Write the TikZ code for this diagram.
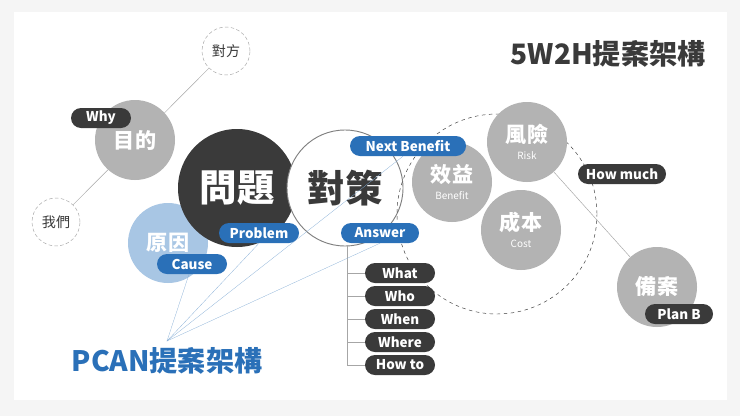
\documentclass[tikz,border=0pt]{standalone}
\usepackage{fontspec}
\setmainfont{Noto Sans CJK TC}
\usepackage{xcolor}
\usetikzlibrary{positioning,calc}
\definecolor{ink}{HTML}{3A3A3A}
\definecolor{pblue}{HTML}{2A70B8}
\definecolor{lblue}{HTML}{A8C6E4}
\definecolor{cgray}{HTML}{B3B3B3}
\newcommand{\subtag}[1]{{\mdseries\fontsize{8.5}{9}\selectfont #1}}

\begin{document}
\begin{tikzpicture}[x=0.03cm, y=-0.03cm,
    bubble/.style={circle, fill=cgray, minimum size=80*0.03cm, inner sep=0pt, align=center, text=white, font=\bfseries\fontsize{18}{19}\selectfont},
    dotball/.style={circle, draw=gray!70, densely dashed, fill=white, minimum size=48*0.03cm, inner sep=0pt, font=\fontsize{12}{13}\selectfont, text=ink},
    pill/.style={rounded corners=10*0.03cm, minimum height=20*0.03cm, inner sep=0pt, text=white, font=\bfseries\fontsize{11.5}{12}\selectfont},
    darkpill/.style={pill, fill=ink},
    bluepill/.style={pill, fill=pblue},
    link/.style={gray!70, thin},
    ray/.style={pblue!60, very thin}
]
    % page
    \fill[gray!8] (0,0) rectangle (740,416);
    \fill[white] (14,12) rectangle (727,400);

    % left side: purpose
    \node[dotball] (them) at (226,51) {對方};
    \node[dotball] (us) at (56,222) {我們};
    \draw[link] (them) -- (us);
    \node[bubble] (goal) at (135,140) {目的};
    \node[darkpill, minimum width=60*0.03cm] (why) at (101,118) {Why};

    % center: problem and answer
    \node[circle, fill=lblue, minimum size=80*0.03cm, inner sep=0pt, text=white, font=\bfseries\fontsize{18}{19}\selectfont] (cause) at (168,243) {原因};
    \node[circle, fill=ink, minimum size=118*0.03cm, inner sep=0pt, text=white, font=\bfseries\fontsize{32}{33}\selectfont] (prob) at (237,188) {問題};
    \node[circle, draw=gray, thick, fill=white, minimum size=116*0.03cm, inner sep=0pt, text=ink, font=\bfseries\fontsize{32}{33}\selectfont] (ans) at (345,188) {對策};

    % right side: 5W2H
    \node[circle, draw=ink, dashed, minimum size=200*0.03cm] (scope5w) at (497,214) {};
    \node[bubble] (risk) at (527,142) {風險\\[-4pt]\subtag{Risk}};
    \node[bubble] (alt) at (657,287) {備案};
    \draw[link] (risk) -- (alt);
    \node[bubble] (gain) at (452,182) {效益\\[-4pt]\subtag{Benefit}};
    \node[bubble] (cost) at (521,230) {成本\\[-4pt]\subtag{Cost}};

    \node[bluepill, minimum width=116*0.03cm] (next) at (408,146) {Next Benefit};
    \node[bluepill, minimum width=80*0.03cm] (probtag) at (259,233) {Problem};
    \node[bluepill, minimum width=78*0.03cm] (anstag) at (380,233) {Answer};
    \node[bluepill, minimum width=70*0.03cm] (causetag) at (192,264) {Cause};
    \node[darkpill, minimum width=88*0.03cm] (much) at (622,174) {How much};
    \node[darkpill, minimum width=68*0.03cm] (planb) at (679,314) {Plan B};

    % W list
    \coordinate (stem) at (347,245);
    \foreach \w/\y in {What/273, Who/296, When/319, Where/342, How to/365} {
        \node[darkpill, minimum width=70*0.03cm] (w\y) at (400,\y) {\w};
        \draw[link] (stem |- w\y) -- (w\y.west);
    }
    \draw[link] (stem) -- (stem |- w365);

    % titles
    \node[font=\bfseries\fontsize{24}{25}\selectfont, text=ink] (t5w) at (608,54) {5W2H提案架構};
    \node[font=\bfseries\fontsize{24}{25}\selectfont, text=pblue] (tpcan) at (167,361) {PCAN提案架構};
    \coordinate (hub) at (167,341);
    \draw[ray] (hub) -- ($(causetag.south)+(-3,0)$);
    \draw[ray] (hub) -- (probtag.south);
    \draw[ray] (hub) -- ($(next.south)+(-5,0)$);
    \draw[ray] (hub) -- (anstag.south);
\end{tikzpicture}
\end{document}
